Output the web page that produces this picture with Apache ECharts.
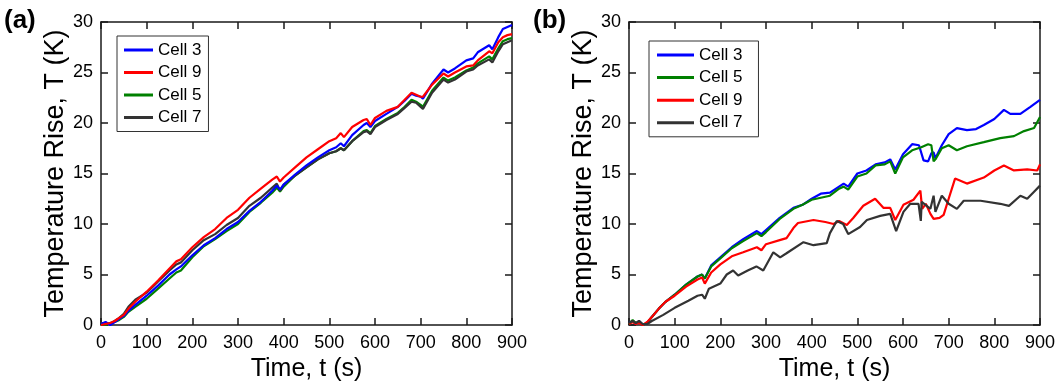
<!DOCTYPE html>
<html>
<head>
<meta charset="utf-8">
<script src="https://cdn.jsdelivr.net/npm/echarts@6/dist/echarts.min.js"></script>
<style>
html,body{margin:0;padding:0;background:#fff;}
#chart{width:1060px;height:390px;}
</style>
</head>
<body>
<div id="chart"></div>
<script>
// ---------- Panel (a) data ----------
const timeA = [0,10,20,30,40,50,60,75,100,125,150,165,175,200,225,250,275,300,325,350,375,385,392,400,425,450,475,500,515,525,532,550,575,582,590,600,625,650,665,680,690,700,705,725,750,760,775,800,815,825,850,857,870,880,890,900];
const aCell3 = [0.1,0.3,0.0,0.3,0.6,0.9,1.4,2.0,2.9,3.9,5.0,5.5,5.8,6.9,7.9,8.6,9.5,10.2,11.3,12.2,13.3,13.8,13.4,13.9,14.9,15.8,16.6,17.3,17.6,18.0,17.7,18.8,19.8,20.0,19.6,20.2,20.9,21.6,22.2,22.9,22.7,22.6,22.4,23.9,25.3,25.0,25.4,26.2,26.4,27.0,27.7,27.3,28.5,29.3,29.5,29.7];
const aCell9 = [0.0,0.1,0.2,0.4,0.7,1.0,1.6,2.3,3.3,4.4,5.6,6.3,6.5,7.7,8.7,9.5,10.6,11.4,12.6,13.5,14.4,14.7,14.2,14.6,15.6,16.6,17.4,18.2,18.5,19.0,18.6,19.6,20.3,20.4,19.8,20.5,21.2,21.6,22.3,23.0,22.8,22.6,22.6,23.8,24.9,24.6,25.0,25.6,25.7,26.2,27.1,26.9,28.0,28.5,28.7,28.8];
const aCell5 = [0.1,0.0,0.2,0.3,0.5,0.8,1.3,1.8,2.6,3.6,4.6,5.2,5.4,6.7,7.8,8.5,9.3,10.0,11.2,12.1,13.1,13.6,13.2,13.7,14.8,15.6,16.4,17.0,17.2,17.5,17.3,18.2,19.2,19.3,19.0,19.7,20.4,21.0,21.6,22.3,22.1,21.8,21.6,23.2,24.5,24.2,24.5,25.2,25.5,25.9,26.6,26.3,27.4,28.1,28.3,28.4];
const aCell7 = [0.2,0.2,0.1,0.4,0.7,1.1,1.8,2.5,3.2,4.3,5.4,6.0,6.2,7.4,8.4,9.0,9.9,10.6,11.8,12.6,13.6,14.0,13.3,13.9,14.8,15.6,16.4,17.0,17.2,17.5,17.3,18.2,19.1,19.2,18.9,19.6,20.3,20.9,21.5,22.1,22.0,21.6,21.4,23.0,24.3,24.0,24.3,25.1,25.3,25.7,26.3,26.0,27.1,27.8,28.0,28.2];

// ---------- Panel (b) data ----------
const bTime3 = [0,8,15,22,30,40,50,65,80,100,125,150,160,166,180,200,225,250,280,290,300,330,360,380,400,420,440,460,470,480,500,520,540,560,572,583,600,620,635,645,655,662,667,671,685,700,718,740,760,777,800,821,835,857,879,900];
const bCell3 = [0.2,0.4,0.1,0.4,0.0,0.2,0.8,1.6,2.3,3.0,4.0,4.8,5.0,4.6,5.9,6.7,7.7,8.5,9.3,9.0,9.4,10.6,11.6,11.9,12.5,13.0,13.1,13.7,14.0,13.7,15.0,15.3,15.9,16.1,16.4,15.4,16.9,17.9,17.8,16.3,16.2,17.0,17.1,16.5,17.8,18.9,19.5,19.3,19.4,19.8,20.4,21.3,20.9,20.9,21.6,22.3];
const bTime5 = [0,8,15,22,30,40,50,65,80,100,125,150,160,166,180,200,225,250,280,290,300,330,360,380,400,420,440,460,470,480,500,520,540,560,572,583,600,620,640,655,662,667,671,685,700,718,740,777,813,843,865,887,900];
const bCell5 = [0.1,0.5,0.2,0.3,0.0,0.2,0.8,1.6,2.3,3.0,4.0,4.8,5.0,4.6,5.8,6.6,7.6,8.3,9.1,8.8,9.2,10.5,11.5,11.9,12.4,12.6,12.8,13.5,13.7,13.4,14.7,15.0,15.8,15.9,16.2,15.0,16.6,17.3,17.6,17.9,17.8,16.2,16.4,17.5,17.8,17.3,17.7,18.1,18.5,18.7,19.2,19.5,20.6];
const bTime9 = [0,8,15,22,30,40,50,65,80,100,125,150,160,166,180,200,225,250,280,290,300,330,345,360,370,404,430,448,460,477,491,513,539,557,572,583,601,623,638,642,650,660,667,680,689,700,714,740,777,800,821,843,872,894,900];
const bCell9 = [0.1,0.3,0.1,0.2,0.0,0.3,0.8,1.6,2.3,2.9,3.8,4.5,4.7,4.1,5.2,6.0,6.8,7.2,7.7,7.4,8.0,8.4,8.6,9.6,10.1,10.4,10.2,10.0,10.3,9.9,10.6,11.8,12.5,11.6,11.6,10.4,11.9,12.4,13.3,11.5,12.0,11.0,10.5,10.6,10.9,12.5,14.5,14.0,14.6,15.3,15.8,15.3,15.4,15.3,15.9];
const bTime7 = [0,8,15,22,30,40,50,75,100,130,150,160,166,175,200,214,228,239,260,279,294,316,331,345,382,404,433,440,455,469,480,506,521,550,572,585,601,616,634,639,641,660,667,671,685,700,718,733,770,813,832,857,872,887,900];
const bCell7 = [0.2,0.4,0.2,0.4,0.1,0.1,0.4,1.0,1.7,2.4,2.9,3.0,2.6,3.6,4.1,5.0,5.4,4.9,5.4,5.8,5.4,7.2,6.7,7.1,8.2,7.9,8.1,9.1,10.3,10.0,9.0,9.7,10.4,10.8,11.0,9.3,11.2,12.0,12.0,10.3,12.2,11.5,12.8,11.2,12.8,12.0,11.5,12.3,12.3,12.0,11.8,12.8,12.5,13.2,13.8];

const xTicks = [0,100,200,300,400,500,600,700,800,900];
const yTicks = [0,5,10,15,20,25,30];
const legendA = ['Cell 3','Cell 9','Cell 5','Cell 7'];
const legendB = ['Cell 3','Cell 5','Cell 9','Cell 7'];
const colors = {'Cell 3':'#0000ff','Cell 9':'#ff0000','Cell 5':'#008000','Cell 7':'#333333'};

const FONT = 'Liberation Sans, Arial, sans-serif';
function zip(t, v){ return t.map((x,i)=>[x, v[i]]); }

const axisLineStyle = {color:'#1a1a1a', width:1.5};
function xAx(grid, pos, showLabel){
  return {
    type:'value', gridIndex:grid, position:pos, min:xTicks[0], max:xTicks[xTicks.length-1], interval:100,
    axisLine:{show:true, onZero:false, lineStyle:axisLineStyle},
    axisTick:{show:true, inside:true, length:7, lineStyle:{color:'#1a1a1a', width:1.5}},
    axisLabel:{show:showLabel, fontFamily:FONT, fontSize:18, color:'#000', margin:9},
    splitLine:{show:false},
    name: showLabel ? 'Time, t (s)' : '',
    nameLocation:'middle', nameGap:30,
    nameTextStyle:{fontFamily:FONT, fontSize:25, color:'#000', verticalAlign:'top'}
  };
}
function yAx(grid, pos, showLabel){
  return {
    type:'value', gridIndex:grid, position:pos, min:yTicks[0], max:yTicks[yTicks.length-1], interval:5,
    axisLine:{show:true, onZero:false, lineStyle:axisLineStyle},
    axisTick:{show:true, inside:true, length:7, lineStyle:{color:'#1a1a1a', width:1.5}},
    axisLabel:{show:showLabel, fontFamily:FONT, fontSize:18, color:'#000', margin:8},
    splitLine:{show:false},
    name: showLabel ? 'Temperature Rise, T (K)' : '',
    nameLocation:'middle', nameGap:30,
    nameTextStyle:{fontFamily:FONT, fontSize:27, color:'#000'}
  };
}
function line(name, data, xi, yi){
  return {
    name:name, type:'line', xAxisIndex:xi, yAxisIndex:yi, data:data,
    showSymbol:false, symbol:'none', animation:false,
    lineStyle:{color:colors[name], width:2.2},
    itemStyle:{color:colors[name]}
  };
}

const option = {
  animation:false,
  backgroundColor:'#fff',
  title:[
    {text:'(a)', left:4, top:8, padding:0, textStyle:{fontFamily:FONT, fontSize:26, fontWeight:'bold', color:'#000'}},
    {text:'(b)', left:533, top:8, padding:0, textStyle:{fontFamily:FONT, fontSize:26, fontWeight:'bold', color:'#000'}}
  ],
  grid:[
    {left:101, top:22, width:411, height:303},
    {left:629, top:22, width:411, height:303}
  ],
  xAxis:[ xAx(0,'bottom',true), xAx(0,'top',false), xAx(1,'bottom',true), xAx(1,'top',false) ],
  yAxis:[ yAx(0,'left',true), yAx(0,'right',false), yAx(1,'left',true), yAx(1,'right',false) ],
  legend:[
    {data:legendA.map(n=>({name:n, itemStyle:{color:colors[n]}})), orient:'vertical', left:117, top:36,
     icon:'rect', itemWidth:29, itemHeight:3, itemGap:4.5,
     padding:[5,7,5,7], borderColor:'#333', borderWidth:1, backgroundColor:'#fff',
     textStyle:{fontFamily:FONT, fontSize:17, color:'#000', lineHeight:18}},
    {data:legendB.map(n=>({name:n, itemStyle:{color:colors[n]}})), orient:'vertical', left:649, top:41,
     icon:'rect', itemWidth:37, itemHeight:3, itemGap:4.6,
     padding:[5,16,5,8], borderColor:'#333', borderWidth:1, backgroundColor:'#fff',
     textStyle:{fontFamily:FONT, fontSize:17, color:'#000', lineHeight:18}}
  ],
  series:[
    line('Cell 5', zip(timeA,aCell5), 0, 0),
    line('Cell 7', zip(timeA,aCell7), 0, 0),
    line('Cell 3', zip(timeA,aCell3), 0, 0),
    line('Cell 9', zip(timeA,aCell9), 0, 0),
    line('Cell 3', zip(bTime3,bCell3), 2, 2),
    line('Cell 5', zip(bTime5,bCell5), 2, 2),
    line('Cell 9', zip(bTime9,bCell9), 2, 2),
    line('Cell 7', zip(bTime7,bCell7), 2, 2)
  ]
};
const chart = echarts.init(document.getElementById('chart'), null, {renderer:'canvas'});
chart.setOption(option);
</script>
</body>
</html>
